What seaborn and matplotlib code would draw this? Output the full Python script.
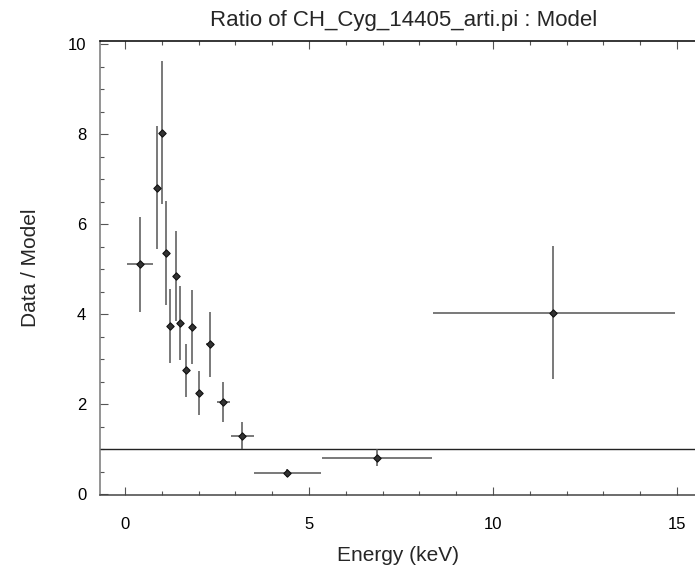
import numpy as np
import pandas as pd
import matplotlib
matplotlib.use("Agg")
import matplotlib.pyplot as plt
from matplotlib.ticker import MultipleLocator
import seaborn as sns

# energy bins (keV), ratio and errors
energy = [0.41, 0.87, 0.99, 1.10, 1.23, 1.37, 1.49, 1.65, 1.81, 2.01, 2.30, 2.65, 3.18, 4.41, 6.84, 11.64]
energy_lo = [0.37, 0.04, 0.04, 0.04, 0.04, 0.04, 0.04, 0.04, 0.04, 0.06, 0.10, 0.16, 0.31, 0.90, 1.49, 3.28]
energy_hi = [0.35, 0.04, 0.04, 0.04, 0.04, 0.04, 0.04, 0.04, 0.04, 0.06, 0.12, 0.20, 0.31, 0.91, 1.50, 3.31]
ratio = [5.11, 6.82, 8.04, 5.37, 3.75, 4.86, 3.81, 2.76, 3.72, 2.25, 3.34, 2.05, 1.31, 0.47, 0.82, 4.04]
ratio_err = [1.05, 1.36, 1.58, 1.15, 0.82, 1.00, 0.83, 0.59, 0.82, 0.49, 0.72, 0.45, 0.29, 0.09, 0.18, 1.48]

df = pd.DataFrame({'energy': energy, 'ratio': ratio})

sns.set_style('ticks')
plt.rcParams['font.family'] = ['Liberation Sans', 'DejaVu Sans']

fig = plt.figure(figsize=(6.95, 5.65), dpi=100)
ax = fig.add_axes([0.144, 0.124, 0.856, 0.803])

ax.axhline(1.0, color='#222222', lw=1.0, zorder=1)
ax.errorbar(energy, ratio, yerr=ratio_err, xerr=[energy_lo, energy_hi],
            fmt='none', ecolor='#555555', elinewidth=1.1, capsize=0, zorder=2)
sns.scatterplot(data=df, x='energy', y='ratio', ax=ax, marker='D', s=14,
                color='#333333', edgecolor='#111111', linewidth=0.8, zorder=3)

ax.set_xlim(-0.68, 15.49)
ax.set_ylim(-0.01, 10.07)
ax.xaxis.set_major_locator(MultipleLocator(5))
ax.xaxis.set_minor_locator(MultipleLocator(1))
ax.yaxis.set_major_locator(MultipleLocator(2))
ax.yaxis.set_minor_locator(MultipleLocator(0.5))
ax.tick_params(which='both', direction='in', top=True, right=False, labelsize=12, labelcolor='black')
ax.tick_params(which='major', length=6, width=0.8, color='#555555')
ax.tick_params(which='minor', length=3, width=0.8, color='#555555')
ax.tick_params(axis='x', pad=16)
ax.tick_params(axis='y', pad=10)
ax.spines['right'].set_visible(False)
ax.spines['left'].set_color('#777777')
ax.spines['bottom'].set_color('#444444')
ax.spines['top'].set_color('black')
for s in ['left', 'bottom', 'top']:
    ax.spines[s].set_linewidth(1.1)

ax.set_xlabel('Energy (keV)', fontsize=15, labelpad=10)
ax.set_ylabel('Data / Model', fontsize=15, labelpad=20)
ax.set_title('Ratio of CH_Cyg_14405_arti.pi : Model', fontsize=16, pad=11, x=0.51)

fig.savefig('out.png', dpi=100)
